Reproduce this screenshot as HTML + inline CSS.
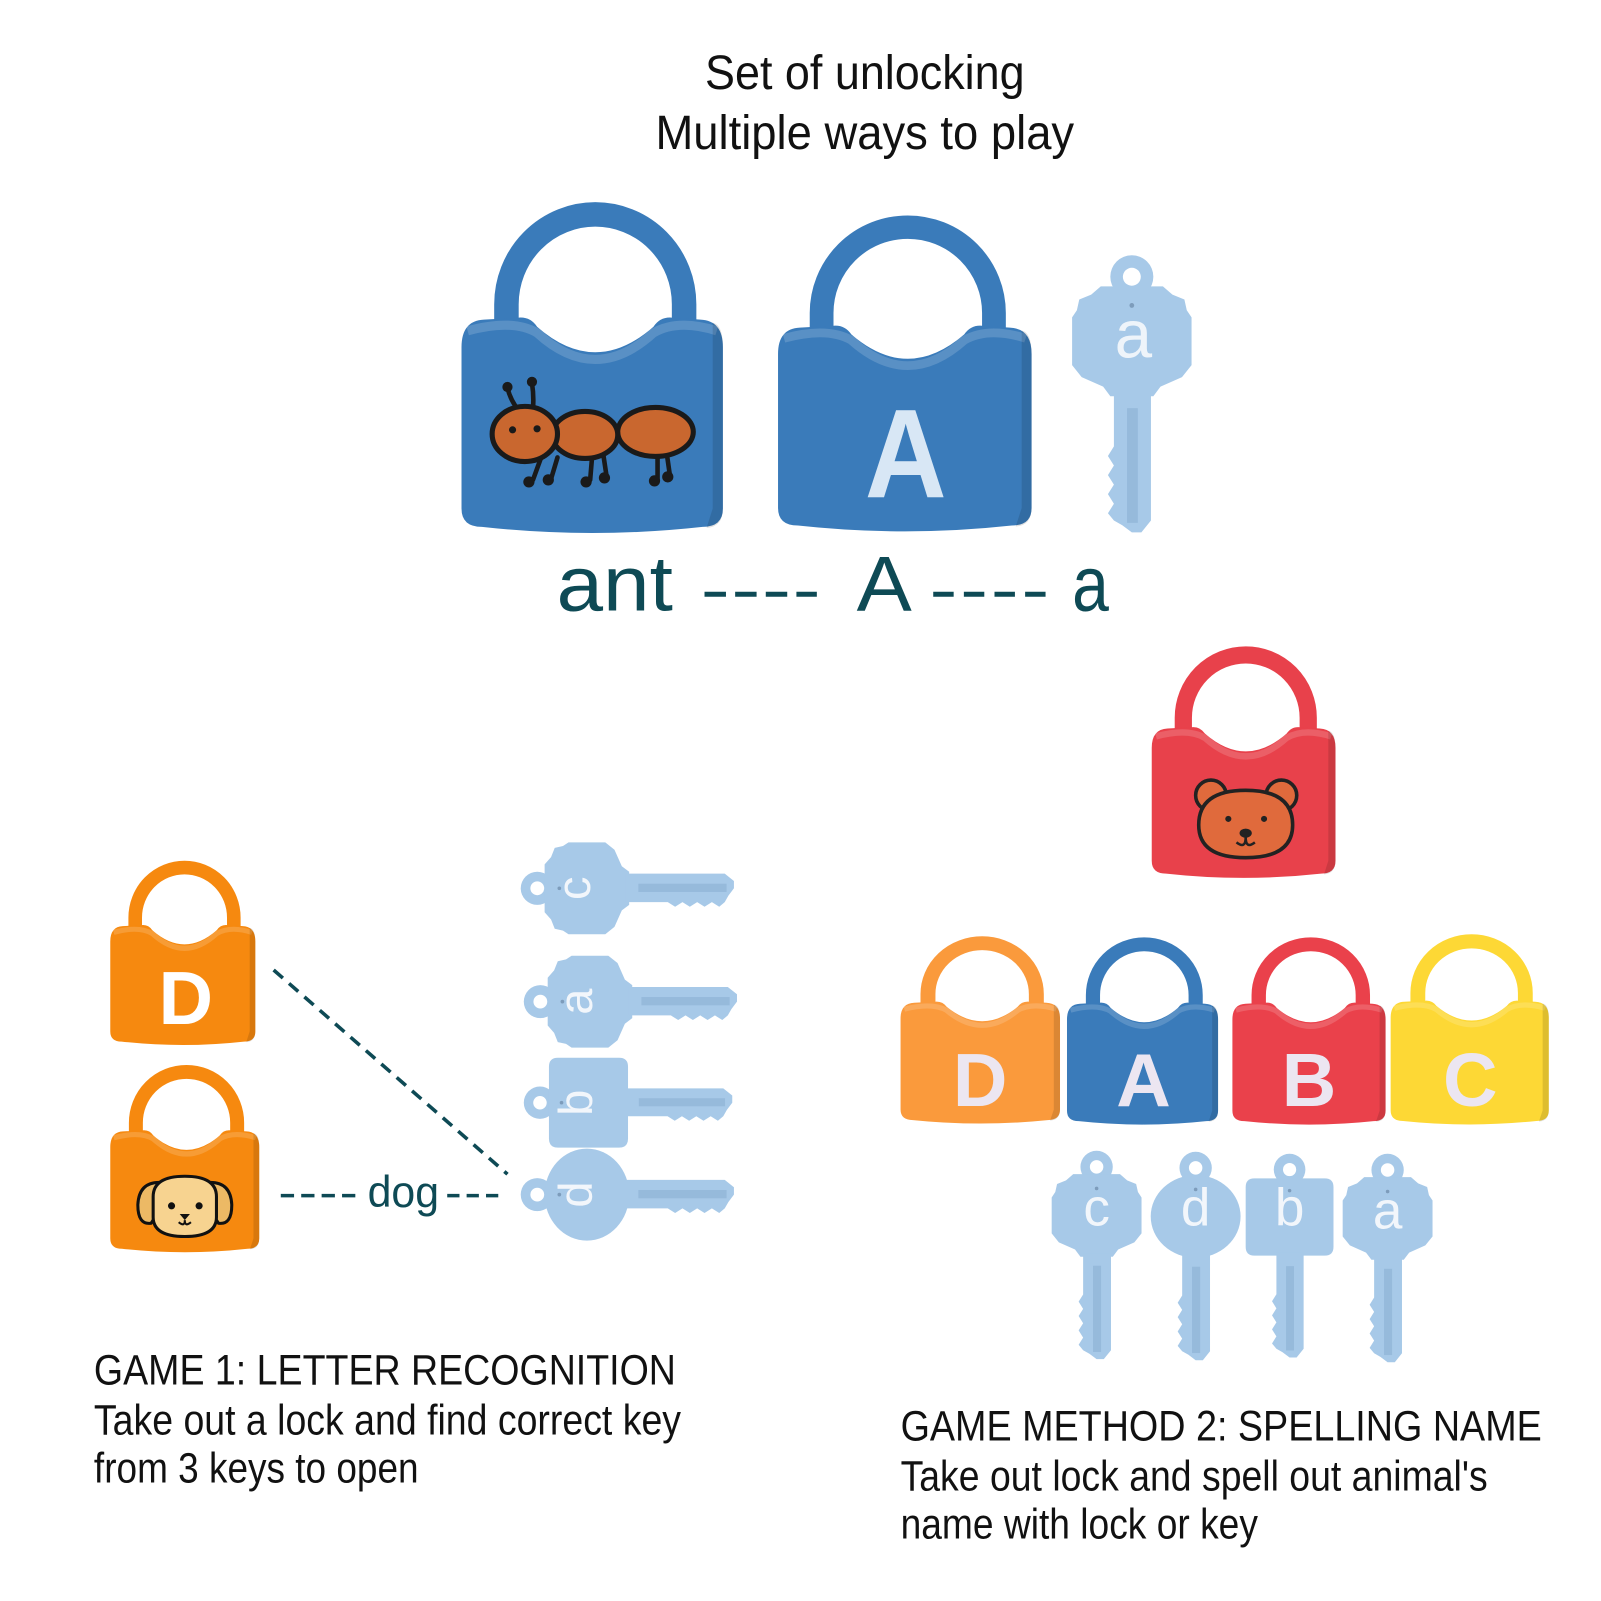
<!DOCTYPE html>
<html><head><meta charset="utf-8"><style>
html,body{margin:0;padding:0;background:#fff;}
svg{display:block;}
text{font-family:"Liberation Sans",Arial,sans-serif;}
.nar{font-family:"Liberation Sans Narrow","Liberation Sans",sans-serif;fill:#111;}
</style></head><body>
<svg width="1601" height="1601" viewBox="0 0 1568 1568" xmlns="http://www.w3.org/2000/svg">
<defs>
  <g id="lk">
    <path d="M44,150 L44,100 A87 88 0 0 1 218,100 L218,150" fill="none" stroke="currentColor" stroke-width="24"/>
    <path d="M0,142 Q0,116 22,115 L58,113 Q68,113 74,122 Q131,172 188,122 Q194,113 204,113 L234,115 Q256,116 256,142 L256,300 Q256,318 236,318 Q128,330 20,318 Q0,318 0,300 Z" fill="currentColor"/>
    <path d="M6,126 Q50,114 74,128 Q131,180 188,128 Q212,114 250,126" fill="none" stroke="#fff" stroke-opacity=".16" stroke-width="9"/>
    <path d="M246,118 Q256,120 256,142 L256,300 Q256,318 240,319 L246,300 Z" fill="#000" fill-opacity=".12"/>
  </g>
  <g id="kc">
    <circle cx="50" cy="18" r="18"/>
    <path d="M24,26 L76,26 L84,33 L94,37 L96,46 L100,52 L100,92 L92,102 L74,110 L68,118 L32,118 L26,110 L8,102 L0,92 L0,52 L4,46 L6,37 L16,33 Z"/>
    <path d="M35,114 L66,114 L66,222 L58,232 L50,232 L42,226 L35,222 L30,216 L35,208 L30,200 L35,192 L30,184 L35,176 L30,168 L35,160 L35,114 Z"/>
    <rect x="46" y="128" width="9" height="96" fill="#8fb3d6" fill-opacity=".7"/>
    <circle cx="50" cy="18" r="7.5" fill="#fff"/>
    <circle cx="50" cy="42" r="2" fill="#7d9cbb"/>
  </g>
  <g id="kd">
    <circle cx="50" cy="18" r="18"/>
    <ellipse cx="50" cy="72" rx="50" ry="46"/>
    <path d="M35,112 L66,112 L66,222 L58,232 L50,232 L42,226 L35,222 L30,216 L35,208 L30,200 L35,192 L30,184 L35,176 L30,168 L35,160 L35,112 Z"/>
    <rect x="46" y="128" width="9" height="96" fill="#8fb3d6" fill-opacity=".7"/>
    <circle cx="50" cy="18" r="7.5" fill="#fff"/>
    <circle cx="50" cy="42" r="2" fill="#7d9cbb"/>
  </g>
  <g id="kb">
    <circle cx="50" cy="18" r="18"/>
    <path d="M10,28 L90,28 Q100,28 100,38 L100,106 Q100,116 90,116 L10,116 Q0,116 0,106 L0,38 Q0,28 10,28 Z"/>
    <path d="M35,112 L66,112 L66,222 L58,232 L50,232 L42,226 L35,222 L30,216 L35,208 L30,200 L35,192 L30,184 L35,176 L30,168 L35,160 L35,112 Z"/>
    <rect x="46" y="128" width="9" height="96" fill="#8fb3d6" fill-opacity=".7"/>
    <circle cx="50" cy="18" r="7.5" fill="#fff"/>
    <circle cx="50" cy="42" r="2" fill="#7d9cbb"/>
  </g>
</defs>

<!-- Title -->
<text x="847" y="87" font-size="47" text-anchor="middle" textLength="313" lengthAdjust="spacingAndGlyphs" fill="#111">Set of unlocking</text>
<text x="847" y="146" font-size="47" text-anchor="middle" textLength="410" lengthAdjust="spacingAndGlyphs" fill="#111">Multiple ways to play</text>

<!-- Ant lock -->
<use href="#lk" transform="translate(452,198)" style="color:#3a7bba"/>
<g stroke="#1a1a1a" stroke-width="4.5" stroke-linecap="round" fill="none">
  <path d="M508,402 Q500,392 497,380"/>
  <path d="M522,400 Q523,388 521,375"/>
  <path d="M530,448 L522,470"/><path d="M546,448 L540,468"/>
  <path d="M580,446 L578,470"/><path d="M591,446 L594,466"/>
  <path d="M644,444 L644,470"/><path d="M653,444 L656,465"/>
</g>
<g fill="#1a1a1a">
  <circle cx="497" cy="379" r="5"/><circle cx="521" cy="374" r="5"/>
  <circle cx="518" cy="472" r="5.5"/><circle cx="537" cy="470" r="5.5"/>
  <circle cx="574" cy="472" r="5.5"/><circle cx="592" cy="468" r="5.5"/>
  <circle cx="641" cy="471" r="5.5"/><circle cx="654" cy="467" r="5.5"/>
</g>
<g fill="#c9672f" stroke="#1a1a1a" stroke-width="5">
  <ellipse cx="642" cy="423" rx="37" ry="24"/>
  <ellipse cx="573" cy="426" rx="32" ry="23"/>
  <ellipse cx="514" cy="425" rx="32" ry="27"/>
</g>
<circle cx="502" cy="421" r="3.5" fill="#1a1a1a"/><circle cx="526" cy="420" r="3.5" fill="#1a1a1a"/>

<!-- A lock -->
<use href="#lk" transform="translate(762,211) scale(0.97,0.955)" style="color:#3a7bba"/>
<text x="887" y="487" font-size="124" font-weight="bold" text-anchor="middle" fill="#d8e7f5" textLength="80" lengthAdjust="spacingAndGlyphs">A</text>

<!-- top key a -->
<use href="#kc" transform="translate(1050,250) scale(1.17)" fill="#a7c9e8"/>
<text x="1110" y="350" font-size="66" text-anchor="middle" fill="#eef4fa">a</text>

<!-- ant ---- A ---- a -->
<text x="545" y="598" font-size="76" fill="#0e4a55" textLength="114" lengthAdjust="spacingAndGlyphs">ant</text>
<line x1="690" y1="582" x2="800" y2="582" stroke="#0e4a55" stroke-width="5" stroke-dasharray="21 9"/>
<text x="866" y="598" font-size="76" text-anchor="middle" fill="#0e4a55" textLength="54" lengthAdjust="spacingAndGlyphs">A</text>
<line x1="914" y1="582" x2="1030" y2="582" stroke="#0e4a55" stroke-width="5" stroke-dasharray="20 10"/>
<text x="1050" y="598" font-size="76" fill="#0e4a55" textLength="36" lengthAdjust="spacingAndGlyphs">a</text>

<!-- Bear lock -->
<use href="#lk" transform="translate(1128,633) scale(0.703,0.70)" style="color:#e8414b"/>
<g fill="#e06a3c" stroke="#222" stroke-width="3.5">
  <circle cx="1186" cy="779" r="15"/><circle cx="1255" cy="779" r="15"/>
  <path d="M1174,808 Q1174,774 1220,774 Q1266,774 1266,808 Q1266,840 1220,840 Q1174,840 1174,808 Z"/>
</g>
<circle cx="1203" cy="802" r="3" fill="#222"/><circle cx="1238" cy="802" r="3" fill="#222"/>
<ellipse cx="1220" cy="816" rx="6" ry="4.5" fill="#222"/>
<path d="M1211,825 Q1220,832 1220,820 Q1220,832 1229,825" fill="none" stroke="#222" stroke-width="2.5"/>

<!-- Left orange D lock -->
<use href="#lk" transform="translate(108,843) scale(0.555,0.557)" style="color:#f6890f"/>
<text x="182" y="1003" font-size="74" font-weight="bold" text-anchor="middle" fill="#fff">D</text>

<!-- Dog lock -->
<use href="#lk" transform="translate(108,1043) scale(0.57,0.566)" style="color:#f6890f"/>
<g stroke="#111" stroke-width="3">
  <path d="M156,1158 Q136,1158 135,1180 Q135,1200 148,1198 Q154,1190 158,1176 Z" fill="#ecb965"/>
  <path d="M206,1158 Q226,1158 227,1180 Q227,1200 214,1198 Q208,1190 204,1176 Z" fill="#ecb965"/>
  <path d="M150,1172 Q150,1152 181,1152 Q212,1152 212,1172 L212,1192 Q212,1211 181,1211 Q150,1211 150,1192 Z" fill="#f7d390"/>
</g>
<circle cx="168" cy="1181" r="3.5" fill="#111"/><circle cx="195" cy="1181" r="3.5" fill="#111"/>
<path d="M176,1189 L186,1189 L181,1195 Z" fill="#111"/>
<path d="M175,1197 Q181,1202 181,1195 Q181,1202 187,1197" fill="none" stroke="#111" stroke-width="2"/>

<!-- connectors -->
<line x1="268" y1="950" x2="497" y2="1150" stroke="#0e4a55" stroke-width="3.5" stroke-dasharray="12 8"/>
<line x1="275" y1="1171" x2="352" y2="1171" stroke="#0e4a55" stroke-width="3.5" stroke-dasharray="13 7"/>
<text x="360" y="1182" font-size="44" fill="#0e4a55" textLength="70" lengthAdjust="spacingAndGlyphs">dog</text>
<line x1="438" y1="1171" x2="494" y2="1171" stroke="#0e4a55" stroke-width="3.5" stroke-dasharray="12 7"/>

<!-- Horizontal keys -->
<use href="#kc" transform="translate(510,870) scale(0.9) rotate(-90) translate(-50,0)" fill="#a7c9e8"/>
<text transform="translate(566,870) rotate(-90)" y="12" font-size="46" text-anchor="middle" fill="#f2f6fb">c</text>
<use href="#kc" transform="translate(513,981) scale(0.9) rotate(-90) translate(-50,0)" fill="#a7c9e8"/>
<text transform="translate(568,981) rotate(-90)" y="12" font-size="46" text-anchor="middle" fill="#f2f6fb">a</text>
<use href="#kb" transform="translate(513,1080) scale(0.88) rotate(-90) translate(-50,0)" fill="#a7c9e8"/>
<text transform="translate(564,1080) rotate(-90)" y="16" font-size="46" text-anchor="middle" fill="#f2f6fb">b</text>
<use href="#kd" transform="translate(510,1170) scale(0.9) rotate(-90) translate(-50,0)" fill="#a7c9e8"/>
<text transform="translate(564,1170) rotate(-90)" y="16" font-size="46" text-anchor="middle" fill="#f2f6fb">d</text>

<!-- Right row locks -->
<use href="#lk" transform="translate(882,917) scale(0.61,0.566)" style="color:#fa9a3c"/>
<use href="#lk" transform="translate(1045,918) scale(0.578,0.566)" style="color:#3a7bba"/>
<use href="#lk" transform="translate(1207,918) scale(0.586,0.566)" style="color:#ea414b"/>
<use href="#lk" transform="translate(1362,915) scale(0.605,0.575)" style="color:#fdd835"/>
<g font-size="74" font-weight="bold" text-anchor="middle" fill="#ece6f1">
  <text x="960" y="1083">D</text>
  <text x="1120" y="1083">A</text>
  <text x="1282" y="1083">B</text>
  <text x="1440" y="1083">C</text>
</g>

<!-- Right keys -->
<use href="#kc" transform="translate(1030,1127) scale(0.88)" fill="#a7c9e8"/>
<use href="#kd" transform="translate(1127,1128) scale(0.88)" fill="#a7c9e8"/>
<use href="#kb" transform="translate(1220,1130) scale(0.86)" fill="#a7c9e8"/>
<use href="#kc" transform="translate(1315,1130) scale(0.88)" fill="#a7c9e8"/>
<g font-size="52" text-anchor="middle" fill="#f2f6fb">
  <text x="1074" y="1200">c</text>
  <text x="1171" y="1200">d</text>
  <text x="1263" y="1200">b</text>
  <text x="1359" y="1203">a</text>
</g>

<!-- Bottom texts -->
<text class="nar" x="92" y="1356" font-size="42" textLength="570" lengthAdjust="spacingAndGlyphs">GAME 1: LETTER RECOGNITION</text>
<text class="nar" x="92" y="1405" font-size="42" textLength="575" lengthAdjust="spacingAndGlyphs">Take out a lock and find correct key</text>
<text class="nar" x="92" y="1452" font-size="42" textLength="318" lengthAdjust="spacingAndGlyphs">from 3 keys to open</text>

<text class="nar" x="882" y="1411" font-size="42" textLength="628" lengthAdjust="spacingAndGlyphs">GAME METHOD 2: SPELLING NAME</text>
<text class="nar" x="882" y="1460" font-size="42" textLength="575" lengthAdjust="spacingAndGlyphs">Take out lock and spell out animal's</text>
<text class="nar" x="882" y="1507" font-size="42" textLength="350" lengthAdjust="spacingAndGlyphs">name with lock or key</text>
</svg>
</body></html>
